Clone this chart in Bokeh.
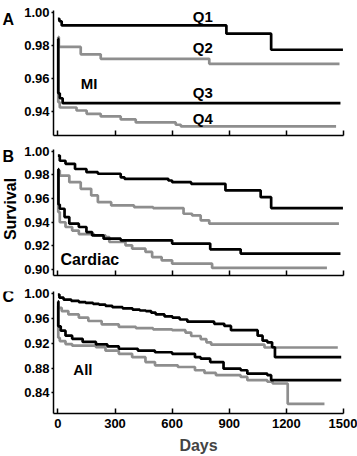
from math import pi
from bokeh.plotting import figure
from bokeh.models import Range1d, FixedTicker, Label, CustomLabelingPolicy
from bokeh.layouts import column, row
from bokeh.embed import file_html
from bokeh.resources import INLINE

# ---------------- data ----------------
x_ticks = [0, 300, 600, 900, 1200, 1500]
x_tick_labels = ["0", "300", "600", "900", "1200", "1500"]

# Panel A: MI
a_y_ticks = [0.94, 0.96, 0.98, 1.00]
a_y_labels = ["0.94", "0.96", "0.98", "1.00"]
a_q1_days = [0, 8, 20, 885, 1120, 1497]
a_q1_surv = [0.996, 0.9945, 0.992, 0.987, 0.9773, 0.9773]
a_q2_days = [0, 5, 120, 225, 795, 1479]
a_q2_surv = [0.985, 0.979, 0.9745, 0.9718, 0.9688, 0.9688]
a_q3_days = [0, 2, 10, 25, 1484]
a_q3_surv = [0.984, 0.951, 0.948, 0.945, 0.945]
a_q4_days = [0, 2, 10, 98, 151, 225, 330, 409, 619, 646, 1461]
a_q4_surv = [0.985, 0.9456, 0.9424, 0.9406, 0.9386, 0.937, 0.9352, 0.9334, 0.932, 0.931, 0.931]

# Panel B: Cardiac
b_y_ticks = [0.90, 0.92, 0.94, 0.96, 0.98, 1.00]
b_y_labels = ["0.90", "0.92", "0.94", "0.96", "0.98", "1.00"]
b_q1_days = [0, 10, 40, 90, 150, 210, 330, 350, 580, 600, 700, 880, 1065, 1120, 1497]
b_q1_surv = [0.9964, 0.992, 0.9894, 0.985, 0.9823, 0.981, 0.978, 0.9767, 0.9753, 0.9739,
             0.9725, 0.9669, 0.9612, 0.952, 0.952]
b_q2_days = [0, 10, 60, 120, 175, 210, 280, 400, 500, 660, 705, 750, 795, 1476]
b_q2_surv = [0.9837, 0.9795, 0.9739, 0.9683, 0.9627, 0.957, 0.9542, 0.9528, 0.952, 0.9472,
             0.9458, 0.9416, 0.9388, 0.9388]
b_q3_days = [0, 3, 10, 35, 60, 110, 150, 180, 240, 330, 600, 800, 960, 1484]
b_q3_surv = [0.985, 0.955, 0.9514, 0.9444, 0.9388, 0.936, 0.9317, 0.9289, 0.9261, 0.9247,
             0.922, 0.9171, 0.9135, 0.9135]
b_q4_days = [0, 2, 10, 40, 75, 110, 190, 250, 270, 355, 390, 460, 495, 545, 600, 810, 1413]
b_q4_surv = [0.984, 0.9486, 0.940, 0.936, 0.933, 0.930, 0.9289, 0.9275, 0.9233, 0.9205,
             0.9177, 0.9149, 0.9106, 0.9078, 0.905, 0.9014, 0.9014]

# Panel C: All
c_y_ticks = [0.84, 0.88, 0.92, 0.96, 1.00]
c_y_labels = ["0.84", "0.88", "0.92", "0.96", "1.00"]
c_q1_days = [0, 8, 30, 70, 110, 146, 185, 216, 250, 286, 340, 392, 430, 462, 490, 514, 560,
             602, 640, 680, 821, 874, 909, 1049, 1075, 1100, 1125, 1140, 1488]
c_q1_surv = [0.998, 0.993, 0.990, 0.988, 0.986, 0.9846, 0.983, 0.982, 0.980, 0.9778, 0.976,
             0.974, 0.9725, 0.9715, 0.969, 0.9661, 0.963, 0.9609, 0.958, 0.9545, 0.951,
             0.9477, 0.9408, 0.932, 0.924, 0.9213, 0.9134, 0.8975, 0.8975]
c_q2_days = [0, 3, 20, 55, 110, 160, 230, 320, 410, 500, 600, 670, 700, 750, 780, 805, 1085, 1470]
c_q2_surv = [0.9873, 0.9767, 0.9715, 0.9661, 0.9609, 0.9556, 0.9503, 0.9461, 0.944, 0.9423,
             0.9408, 0.937, 0.9315, 0.9265, 0.9213, 0.9176, 0.913, 0.913]
c_q3_days = [0, 2, 15, 40, 75, 130, 200, 260, 320, 420, 510, 600, 720, 750, 800, 870, 960,
             995, 1100, 1120, 1488]
c_q3_surv = [0.987, 0.947, 0.940, 0.932, 0.927, 0.922, 0.918, 0.915, 0.911, 0.908, 0.9054,
             0.9028, 0.8975, 0.895, 0.8896, 0.879, 0.8765, 0.871, 0.8685, 0.8606, 0.8606]
c_q4_days = [0, 2, 10, 40, 75, 200, 250, 320, 390, 460, 510, 630, 720, 770, 830, 960, 995,
             1100, 1128, 1207, 1400]
c_q4_surv = [0.98, 0.9287, 0.9233, 0.9186, 0.916, 0.9134, 0.908, 0.9028, 0.8975, 0.8896,
             0.8844, 0.8817, 0.8765, 0.8722, 0.8685, 0.8658, 0.8606, 0.858, 0.8552, 0.8226, 0.8226]

BLACK = "#000000"
GRAY = "#8e8e8e"
FONT = "Liberation Sans"
LEFT_W = 20


def make_fig(height, ylo, yhi, top, bottom, yticks, ylabels, show_x_labels):
    p = figure(width=357 - LEFT_W, height=height,
               x_range=Range1d(-23, 1500), y_range=Range1d(ylo, yhi),
               output_backend="svg", toolbar_location=None,
               min_border_left=53 - LEFT_W, min_border_right=14,
               min_border_top=top, min_border_bottom=bottom)
    p.xgrid.visible = False
    p.ygrid.visible = False
    p.outline_line_color = None
    for ax in (p.xaxis[0], p.yaxis[0]):
        ax.axis_line_width = 1.5
        ax.axis_line_color = "black"
        ax.major_tick_line_width = 1.5
        ax.major_tick_line_color = "black"
        ax.minor_tick_line_color = None
        ax.major_label_text_font = FONT
        ax.major_label_text_font_style = "bold"
        ax.major_label_text_font_size = "13px"
        ax.major_label_text_color = "black"
    xa = p.xaxis[0]
    xa.ticker = FixedTicker(ticks=x_ticks)
    xa.major_tick_in = 5
    xa.major_tick_out = 0
    if show_x_labels:
        xa.major_label_overrides = dict(zip(x_ticks, x_tick_labels))
        xa.major_label_standoff = 5
        xa.axis_label = "Days"
        xa.axis_label_text_font = FONT
        xa.axis_label_text_font_style = "bold"
        xa.axis_label_text_font_size = "16px"
        xa.axis_label_standoff = 6
    else:
        xa.major_label_policy = CustomLabelingPolicy(code="return []")
        xa.major_label_text_font_size = "0px"
        xa.major_label_standoff = 0
    ya = p.yaxis[0]
    ya.ticker = FixedTicker(ticks=yticks)
    ya.major_label_overrides = dict(zip(yticks, ylabels))
    ya.major_tick_in = 0
    ya.major_tick_out = 2
    ya.major_label_standoff = 2
    return p


def side_fig(height):
    # narrow strip left of each panel holding the panel letter (pixel coordinates)
    s = figure(width=LEFT_W, height=height, x_range=Range1d(0, LEFT_W),
               y_range=Range1d(height, 0), output_backend="svg", toolbar_location=None,
               x_axis_type=None, y_axis_type=None, min_border=0)
    s.outline_line_color = None
    return s


def curves(p, series):
    for days, surv, color in series:
        p.step(x=days, y=surv, mode="after", line_color=color, line_width=2.7)


def text(p, x, y, s, size="15px", align="center", angle=0.0):
    p.add_layout(Label(x=x, y=y, text=s, text_font=FONT, text_font_style="bold",
                       text_font_size=size, text_align=align, text_baseline="middle",
                       text_color="black", angle=angle))


# Panel A
hA = 141
pA = make_fig(hA, 0.9255, 1.001, 10, 6, a_y_ticks, a_y_labels, False)
curves(pA, [(a_q2_days, a_q2_surv, GRAY), (a_q4_days, a_q4_surv, GRAY),
            (a_q1_days, a_q1_surv, BLACK), (a_q3_days, a_q3_surv, BLACK)])
text(pA, 761, 0.9975, "Q1")
text(pA, 761, 0.9785, "Q2")
text(pA, 761, 0.9515, "Q3")
text(pA, 761, 0.9355, "Q4")
text(pA, 164, 0.957, "MI")
sA = side_fig(hA)
text(sA, 2, 10, "A", size="16px", align="left")

# Panel B
hB = 142
pB = make_fig(hB, 0.895, 1.0015, 8, 8, b_y_ticks, b_y_labels, False)
curves(pB, [(b_q2_days, b_q2_surv, GRAY), (b_q4_days, b_q4_surv, GRAY),
            (b_q1_days, b_q1_surv, BLACK), (b_q3_days, b_q3_surv, BLACK)])
text(pB, 14, 0.9087, "Cardiac", size="16px", align="left")
sB = side_fig(hB)
text(sB, 2, 8, "B", size="16px", align="left")
text(sB, 10, 67, "Survival", size="16px", angle=pi / 2)

# Panel C
hC = 173
pC = make_fig(hC, 0.807, 1.003, 8, 42, c_y_ticks, c_y_labels, True)
curves(pC, [(c_q2_days, c_q2_surv, GRAY), (c_q4_days, c_q4_surv, GRAY),
            (c_q1_days, c_q1_surv, BLACK), (c_q3_days, c_q3_surv, BLACK)])
text(pC, 81, 0.8774, "All", align="left")
sC = side_fig(hC)
text(sC, 2, 7, "C", size="16px", align="left")

layout = column(row(sA, pA, spacing=0), row(sB, pB, spacing=0), row(sC, pC, spacing=0),
                spacing=0)
open("out.html", "w").write(file_html(layout, INLINE))
